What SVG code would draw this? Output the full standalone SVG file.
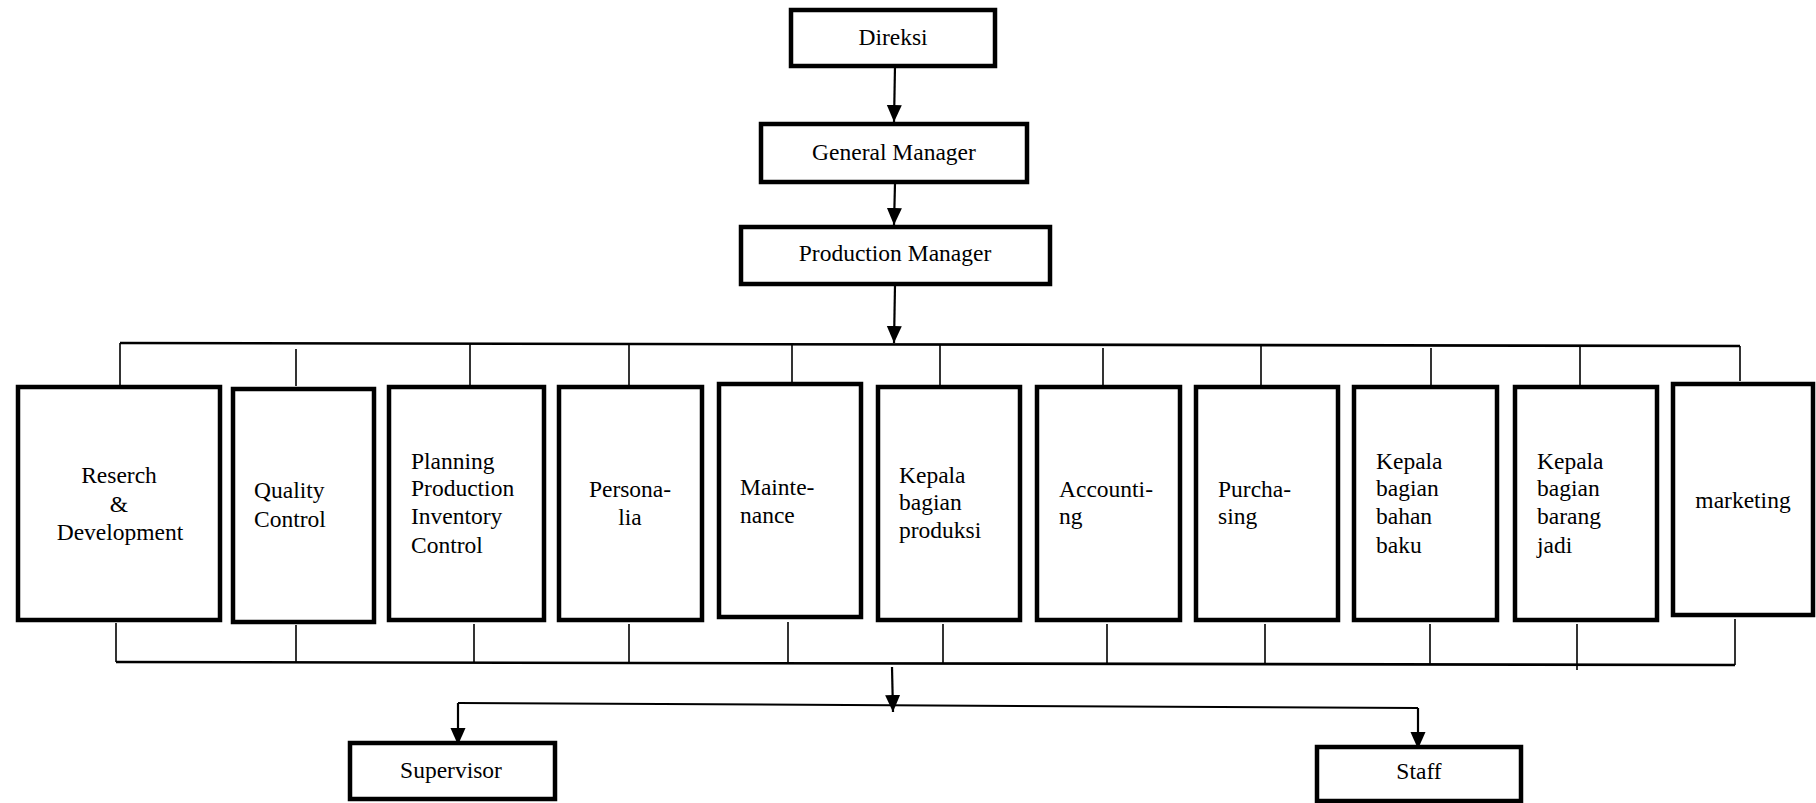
<svg xmlns="http://www.w3.org/2000/svg" width="1816" height="803" viewBox="0 0 1816 803">
<style>
.box{fill:#fff;stroke:#000;stroke-width:4.5}
.t{font-family:"Liberation Serif","Times New Roman",serif;font-size:23.5px;fill:#000}
.c{text-anchor:middle}
.ln{stroke:#000;stroke-width:1.6;fill:none}
.bus{stroke:#000;stroke-width:2.6;fill:none}
.ar{stroke:#000;stroke-width:2.2;fill:none;marker-end:url(#ah)}
</style>
<defs>
<marker id="ah" markerUnits="userSpaceOnUse" markerWidth="18" markerHeight="16" refX="17" refY="8" orient="auto" viewBox="0 0 18 16">
<path d="M0,0.5 L17,8 L0,15.5 Z" fill="#000"/>
</marker>
</defs>

<g id="connectors">
<line class="ar" x1="895" y1="66" x2="894" y2="122"/>
<line class="ar" x1="895" y1="183" x2="894" y2="225"/>
<line class="ar" x1="895" y1="285" x2="894" y2="343"/>
<line class="bus" x1="120" y1="343" x2="1740" y2="346"/>
<line class="ln" x1="120" y1="343" x2="120" y2="385"/>
<line class="ln" x1="296" y1="349" x2="296" y2="386"/>
<line class="ln" x1="470" y1="344" x2="470" y2="385"/>
<line class="ln" x1="629" y1="344" x2="629" y2="385"/>
<line class="ln" x1="792" y1="345" x2="792" y2="382"/>
<line class="ln" x1="940" y1="345" x2="940" y2="385"/>
<line class="ln" x1="1103" y1="348" x2="1103" y2="385"/>
<line class="ln" x1="1261" y1="345" x2="1261" y2="385"/>
<line class="ln" x1="1431" y1="348" x2="1431" y2="385"/>
<line class="ln" x1="1580" y1="346" x2="1580" y2="385"/>
<line class="ln" x1="1740" y1="346" x2="1740" y2="381"/>
<line class="bus" x1="116" y1="662" x2="1735" y2="665"/>
<line class="ln" x1="116" y1="623" x2="116" y2="662"/>
<line class="ln" x1="296" y1="625" x2="296" y2="662"/>
<line class="ln" x1="474" y1="624" x2="474" y2="662"/>
<line class="ln" x1="629" y1="624" x2="629" y2="663"/>
<line class="ln" x1="788" y1="622" x2="788" y2="663"/>
<line class="ln" x1="943" y1="624" x2="943" y2="663"/>
<line class="ln" x1="1107" y1="624" x2="1107" y2="664"/>
<line class="ln" x1="1265" y1="624" x2="1265" y2="664"/>
<line class="ln" x1="1430" y1="624" x2="1430" y2="664"/>
<line class="ln" x1="1577" y1="624" x2="1577" y2="670"/>
<line class="ln" x1="1735" y1="619" x2="1735" y2="665"/>
<line class="ar" x1="892" y1="667" x2="893" y2="712"/>
<line class="ln" style="stroke-width:2" x1="1418" y1="708" x2="458" y2="703"/>
<line class="ar" x1="458" y1="703" x2="458" y2="745"/>
<line class="ar" x1="1418" y1="708" x2="1418" y2="749"/>
</g>

<g id="n-direksi"><rect class="box" x="791" y="10" width="204" height="56"/><text class="t c" x="893" y="45">Direksi</text></g>
<g id="n-gm"><rect class="box" x="761" y="124" width="266" height="58"/><text class="t c" x="894" y="160">General Manager</text></g>
<g id="n-pm"><rect class="box" x="741" y="227" width="309" height="57"/><text class="t c" x="895" y="261">Production Manager</text></g>

<g id="n-rd"><rect class="box" x="18" y="387" width="202" height="233"/><text class="t c" x="119" y="483">Reserch</text><text class="t c" x="119" y="512">&amp;</text><text class="t c" x="120" y="540">Development</text></g>
<g id="n-qc"><rect class="box" x="233" y="389" width="141" height="233"/><text class="t" x="254" y="498">Quality</text><text class="t" x="254" y="527">Control</text></g>
<g id="n-ppic"><rect class="box" x="389" y="387" width="155" height="233"/><text class="t" x="411" y="469">Planning</text><text class="t" x="411" y="496">Production</text><text class="t" x="411" y="524">Inventory</text><text class="t" x="411" y="553">Control</text></g>
<g id="n-personalia"><rect class="box" x="559" y="387" width="143" height="233"/><text class="t c" x="630" y="497">Persona-</text><text class="t c" x="630" y="525">lia</text></g>
<g id="n-maintenance"><rect class="box" x="719" y="384" width="142" height="233"/><text class="t" x="740" y="495">Mainte-</text><text class="t" x="740" y="523">nance</text></g>
<g id="n-produksi"><rect class="box" x="878" y="387" width="142" height="233"/><text class="t" x="899" y="483">Kepala</text><text class="t" x="899" y="510">bagian</text><text class="t" x="899" y="538">produksi</text></g>
<g id="n-accounting"><rect class="box" x="1037" y="387" width="143" height="233"/><text class="t" x="1059" y="497">Accounti-</text><text class="t" x="1059" y="524">ng</text></g>
<g id="n-purchasing"><rect class="box" x="1196" y="387" width="142" height="233"/><text class="t" x="1218" y="497">Purcha-</text><text class="t" x="1218" y="524">sing</text></g>
<g id="n-bahanbaku"><rect class="box" x="1354" y="387" width="143" height="233"/><text class="t" x="1376" y="469">Kepala</text><text class="t" x="1376" y="496">bagian</text><text class="t" x="1376" y="524">bahan</text><text class="t" x="1376" y="553">baku</text></g>
<g id="n-barangjadi"><rect class="box" x="1515" y="387" width="142" height="233"/><text class="t" x="1537" y="469">Kepala</text><text class="t" x="1537" y="496">bagian</text><text class="t" x="1537" y="524">barang</text><text class="t" x="1537" y="553">jadi</text></g>
<g id="n-marketing"><rect class="box" x="1673" y="384" width="140" height="231"/><text class="t c" x="1743" y="508">marketing</text></g>

<g id="n-supervisor"><rect class="box" x="350" y="743" width="205" height="56"/><text class="t c" x="451" y="778">Supervisor</text></g>
<g id="n-staff"><rect class="box" x="1317" y="747" width="204" height="54"/><text class="t c" x="1419" y="779">Staff</text></g>
</svg>
